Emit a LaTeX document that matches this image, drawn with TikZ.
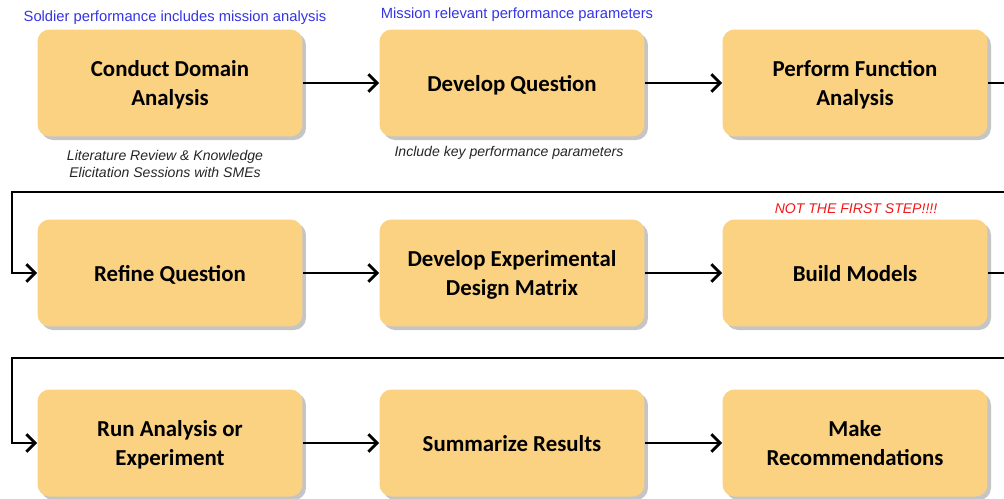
\documentclass[tikz,border=0pt]{standalone}
\usepackage{fontspec}
\setmainfont{Carlito}
\newfontfamily\notefont{Liberation Sans}
\usepackage{tikz}
\usetikzlibrary{arrows.meta,shadows}
\definecolor{boxorange}{HTML}{FAD281}
\definecolor{noteblue}{HTML}{3434E4}
\definecolor{warnred}{HTML}{F01818}
\tikzset{procbox/.style={
    draw=none,
    fill=boxorange,
    rounded corners=0.24cm,
    minimum width=5.3cm,
    minimum height=2.14cm,
    align=center,
    text depth=0pt,
    font=\fontsize{13}{16}\selectfont\bfseries,
    drop shadow={shadow xshift=2pt,shadow yshift=-2pt,fill=black!45,opacity=0.5}}}
\tikzset{flowedge/.style={
    draw=black,
    line width=1.6pt,
    -{Straight Barb[length=5pt,width=10pt,line width=1.6pt]}}}
\tikzset{flowline/.style={
    draw=black,
    line width=1.6pt}}
\tikzset{bluenote/.style={
    text=noteblue,
    font=\notefont\fontsize{8.4}{10}\selectfont}}
\tikzset{greynote/.style={
    text=black!85,
    align=center,
    font=\notefont\itshape\fontsize{8}{10}\selectfont}}
\tikzset{warnnote/.style={
    text=warnred,
    font=\notefont\itshape\fontsize{8}{10}\selectfont}}

\begin{document}
\begin{tikzpicture}[x=0.02cm,y=-0.02cm]
\useasboundingbox (0,0) rectangle (1004,498);

\node[procbox] (domain) at (170,83) {Conduct Domain\\Analysis};
\node[procbox] (question) at (512,83) {Develop Question};
\node[procbox] (function) at (855,83) {Perform Function\\Analysis};

\node[procbox] (refine) at (170,273) {Refine Question};
\node[procbox] (design) at (512,273) {Develop Experimental\\Design Matrix};
\node[procbox] (models) at (855,273) {Build Models};

\node[procbox] (run) at (170,443) {Run Analysis or\\Experiment};
\node[procbox] (results) at (512,443) {Summarize Results};
\node[procbox] (recommend) at (855,443) {Make\\Recommendations};

% notes
\node[bluenote] (soldier) at (175,18) {Soldier performance includes mission analysis};
\node[bluenote] (mission) at (517,15) {Mission relevant performance parameters};
\node[greynote] (literature) at (165,164) {Literature Review \& Knowledge\\Elicitation Sessions with SMEs};
\node[greynote] (include) at (509,153) {Include key performance parameters};
\node[warnnote] (notfirst) at (856,209) {NOT THE FIRST STEP!!!!};

% wrap points
\coordinate (out1) at (1006,83);
\coordinate (in1) at (1006,192);
\coordinate (turn1) at (12,192);
\coordinate (out2) at (1006,273);
\coordinate (in2) at (1006,358);
\coordinate (turn2) at (12,358);

\draw[flowedge] (domain) -- (question);
\draw[flowedge] (question) -- (function);
\draw[flowline] (function) -- (out1);
\draw[flowedge] (in1) -- (turn1) |- (refine);

\draw[flowedge] (refine) -- (design);
\draw[flowedge] (design) -- (models);
\draw[flowline] (models) -- (out2);
\draw[flowedge] (in2) -- (turn2) |- (run);

\draw[flowedge] (run) -- (results);
\draw[flowedge] (results) -- (recommend);
\end{tikzpicture}
\end{document}
